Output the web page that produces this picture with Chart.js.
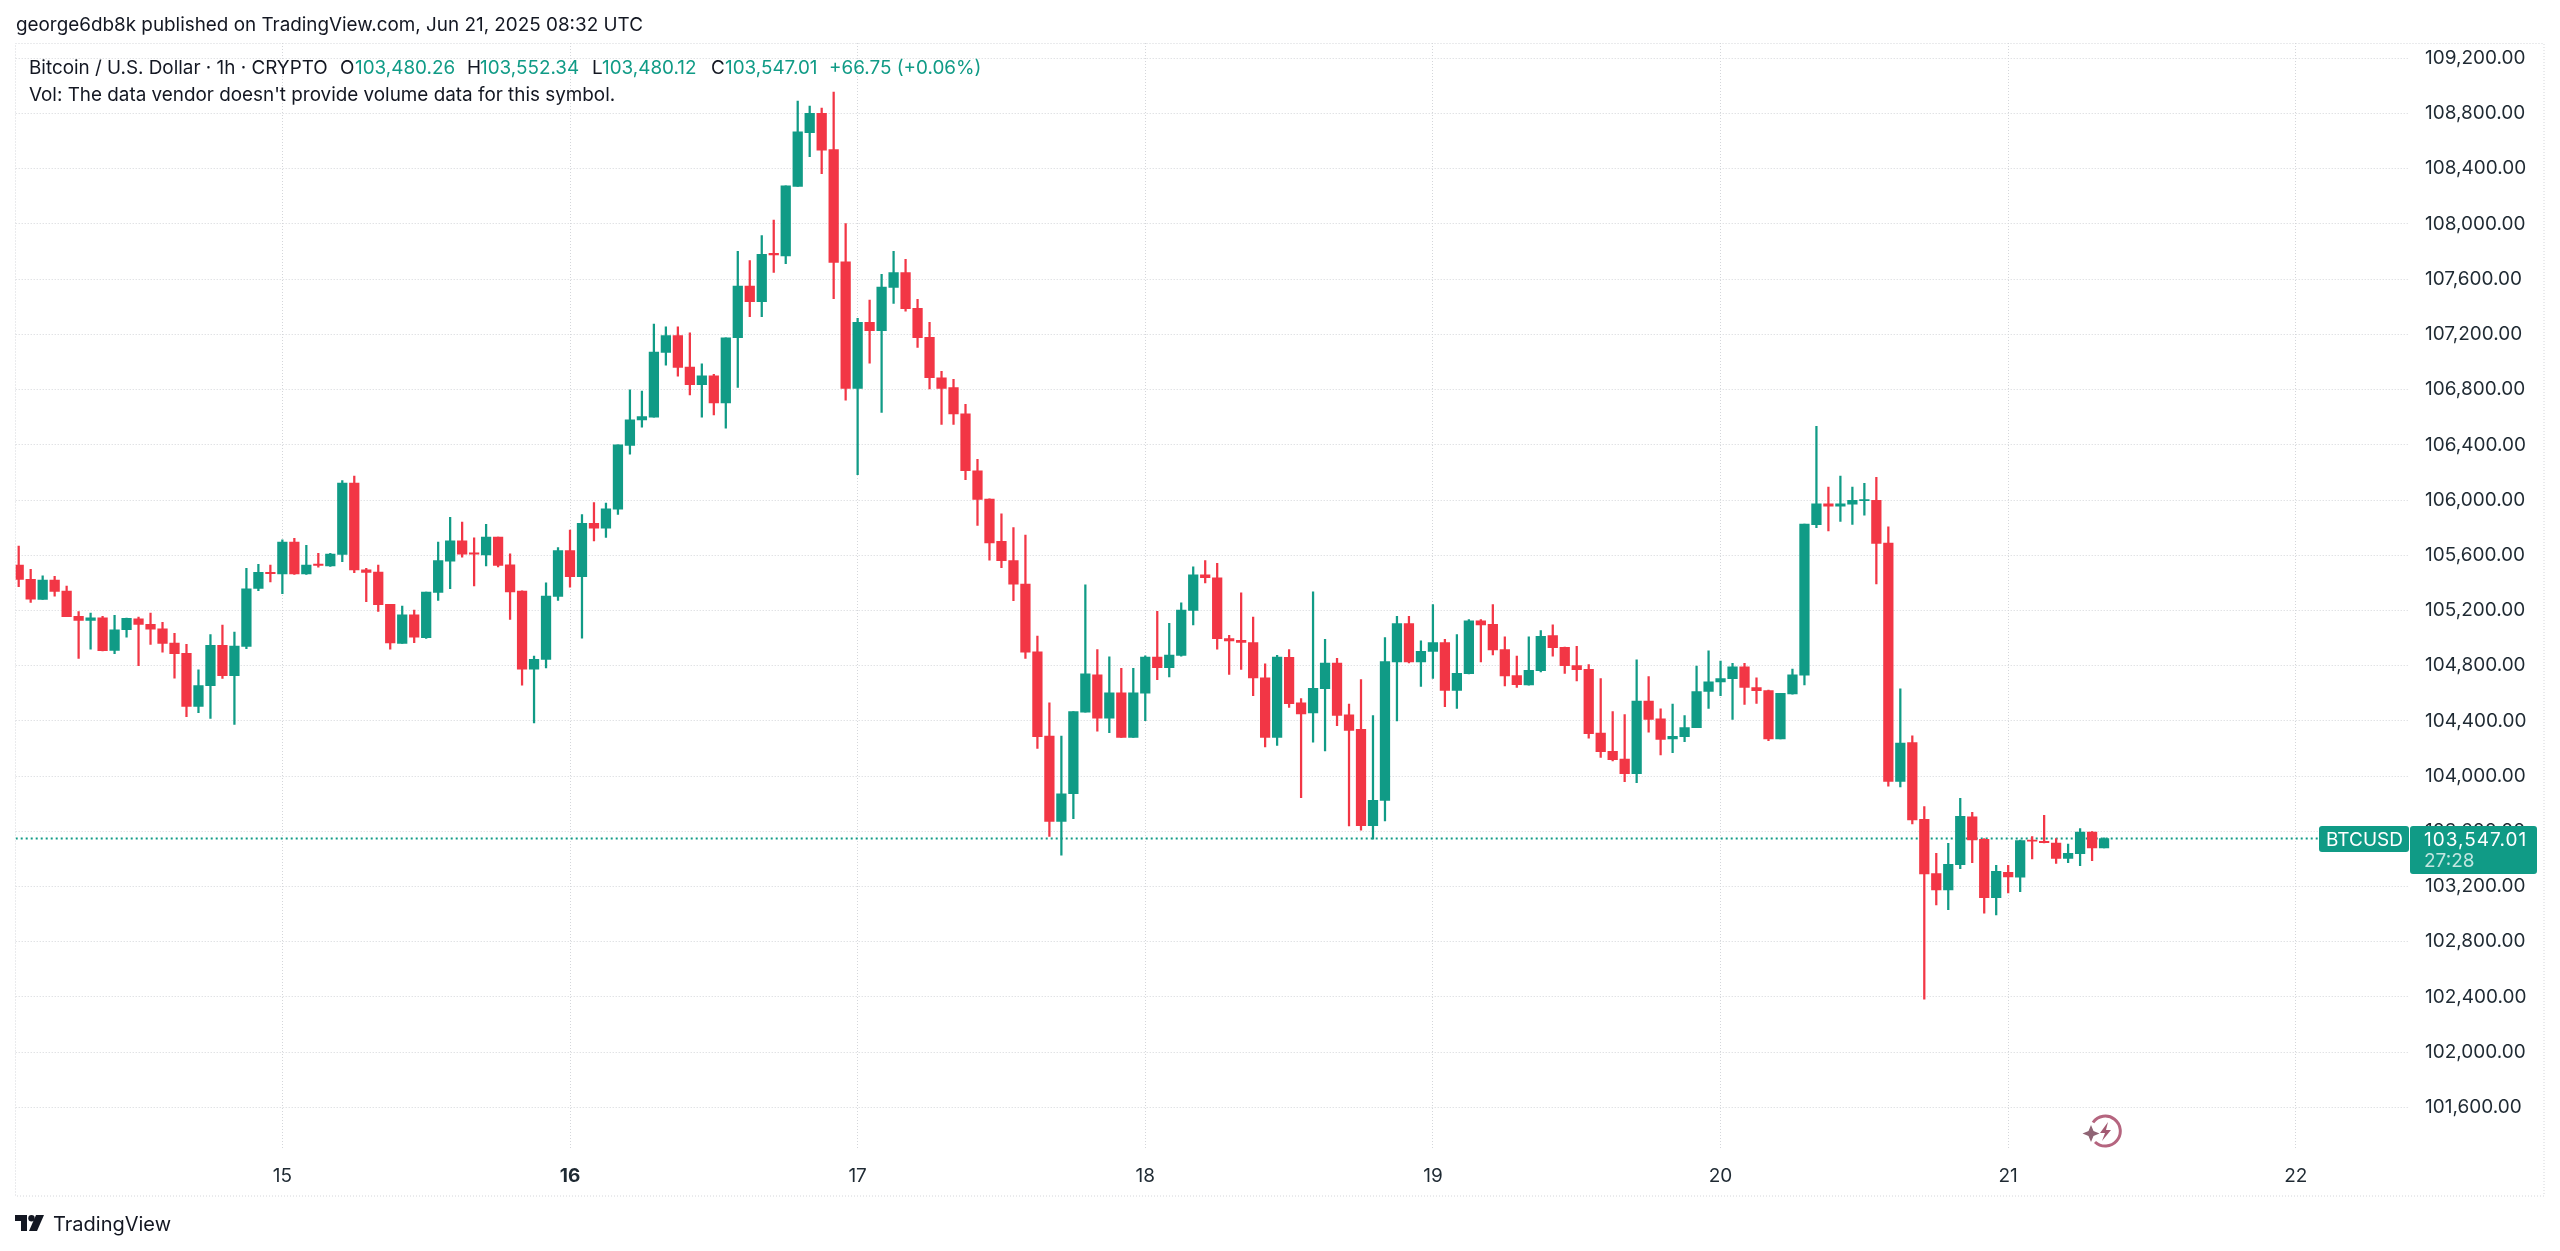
<!DOCTYPE html>
<html>
<head>
<meta charset="utf-8">
<style>
  html, body { margin: 0; padding: 0; background: #fff; }
  #wrap { position: relative; width: 2560px; height: 1251px; overflow: hidden; font-family: Inter, sans-serif; }
  canvas { position: absolute; left: 0; top: 0; }
  .t { position: absolute; white-space: nowrap; font-size: 18.86px; line-height: 24px; color: #131722; }
  .g { color: #109b86; }
</style>
</head>
<body>
<div id="wrap">
  <canvas id="chart" width="2560" height="1251"></canvas>
  <div class="t" style="left:16px;top:13px;">george6db8k published on TradingView.com, Jun 21, 2025 08:32 UTC</div>
  <div class="t" style="left:29px;top:56px">Bitcoin / U.S. Dollar · 1h · CRYPTO</div>
  <div class="t" style="left:340px;top:56px">O</div><div class="t g" style="left:355px;top:56px">103,480.26</div>
  <div class="t" style="left:467px;top:56px">H</div><div class="t g" style="left:480px;top:56px">103,552.34</div>
  <div class="t" style="left:592px;top:56px">L</div><div class="t g" style="left:602px;top:56px">103,480.12</div>
  <div class="t" style="left:711px;top:56px">C</div><div class="t g" style="left:725px;top:56px">103,547.01</div>
  <div class="t g" style="left:829px;top:56px">+66.75 (+0.06%)</div>
  <div class="t" style="left:29px;top:83px">Vol: The data vendor doesn't provide volume data for this symbol.</div>
  <svg style="position:absolute;left:15px;top:1214px" width="30" height="18" viewBox="0 0 30 18">
    <path d="M0 1h12v16H6V7H0z M21 1h8l-7 16h-8z" fill="#131722"/><circle cx="16.5" cy="4.2" r="3.2" fill="#131722"/>
  </svg>
  <div class="t" style="left:53px;top:1212px;font-size:20px">TradingView</div>
  <svg style="position:absolute;left:2082px;top:1114px" width="40" height="36" viewBox="0 0 40 36" fill="none">
    <path d="M11 8.5A15 15 0 1 1 13 28" stroke="#b5657f" stroke-width="3"/>
    <path d="M26 8l-8 11h5l-3 8 9-11h-5z" fill="#a35a72"/>
    <path d="M9 11l2.5 6 6 2.5-6 2.5-2.5 6-2.5-6-6-2.5 6-2.5z" fill="#8f6474"/>
  </svg>
</div>

<script src="https://cdn.jsdelivr.net/npm/chart.js@4/dist/chart.umd.js"></script>
<script>
// hours since Jun 14 00:00 of the first candle, and the day labels on the time axis
const firstHour = 2;
const dayLabels = ['15', '16', '17', '18', '19', '20', '21', '22'];
const boldDay = '16';
const priceTicks = [109200, 108800, 108400, 108000, 107600, 107200, 106800, 106400, 106000, 105600,
  105200, 104800, 104400, 104000, 103600, 103200, 102800, 102400, 102000, 101600];

const opens = [
  105529,105425,105280,105420,105340,105157,105128,105147,104910,105060,
  105140,105099,105067,104964,104889,104505,104655,104947,104727,104940,
  105360,105476,105464,105695,105464,105536,105522,105606,106123,105495,
  105478,105244,104961,105169,105002,105330,105557,105704,105618,105603,
  105731,105531,105340,104775,104845,105301,105634,105444,105832,105796,
  105934,106395,106581,106600,107069,107192,106963,106835,106900,106704,
  107176,107550,107437,107787,107768,108272,108661,108801,108538,107726,
  106809,107287,107227,107541,107647,107388,107178,106886,106814,106625,
  106212,106007,105700,105562,105391,104901,104290,103671,103872,104463,
  104734,104420,104603,104280,104601,104862,104785,104874,105200,105458,
  105437,104997,104983,104968,104712,104280,104860,104530,104457,104633,
  104819,104443,104339,103641,103824,104827,105104,104827,104904,104967,
  104621,104742,105124,105099,104916,104728,104660,104764,105017,104933,
  104800,104773,104312,104179,104124,104018,104544,104414,104269,104286,
  104350,104613,104683,104705,104792,104642,104620,104270,104596,104731,
  105821,105973,105956,105970,105995,105997,105688,103961,104242,103687,
  103293,103175,103358,103704,103542,103119,103303,103267,103537,103528,
  103515,103404,103438,103595,103480.26
];
const highs = [
  105666,105497,105451,105447,105377,105191,105181,105157,105164,105145,
  105152,105181,105113,105034,104954,104770,105026,105094,105043,105505,
  105534,105529,105712,105722,105671,105613,105613,106140,106174,105505,
  105529,105244,105232,105203,105333,105695,105874,105840,105726,105823,
  105731,105610,105342,104869,105400,105656,105782,105895,105982,105977,
  106400,106798,106789,107274,107255,107255,107211,106987,106910,107175,
  107801,107734,107915,108028,108277,108890,108854,108840,108956,108002,
  107316,107449,107635,107801,107743,107454,107287,106932,106874,106693,
  106294,106009,105900,105801,105746,105014,104531,104290,104468,105386,
  104917,104864,104780,104780,104872,105193,105106,105256,105516,105562,
  105541,105019,105328,105152,104814,104874,104916,104561,105334,104991,
  104853,104522,104699,104438,105003,105157,105157,104979,105242,104991,
  105025,105133,105133,105242,105008,104870,105008,105054,105095,104935,
  104940,104807,104706,104467,104445,104843,104720,104488,104522,104438,
  104797,104908,104833,104816,104816,104712,104623,104599,104775,105825,
  106533,106094,106173,106094,106120,106164,105806,104632,104291,103779,
  103441,103513,103839,103738,103547,103354,103354,103537,103561,103716,
  103547,103508,103619,103598,103552.34
];
const lows = [
  105372,105258,105280,105304,105154,104853,104920,104906,104886,105007,
  104799,104954,104898,104710,104430,104459,104418,104708,104374,104923,
  105343,105406,105321,105461,105461,105514,105519,105553,105473,105263,
  105193,104920,104961,104966,104997,105272,105357,105586,105378,105523,
  105516,105135,104659,104386,104784,105272,105369,104999,105704,105729,
  105895,106332,106528,106600,106977,106897,106762,106600,106617,106521,
  106816,107328,107328,107649,107712,108272,108487,108364,107458,106724,
  106183,106992,106635,107425,107369,107106,106804,106548,106548,106147,
  105816,105565,105509,105270,104852,104200,103563,103427,103691,104463,
  104326,104314,104280,104280,104401,104698,104719,104869,105096,105400,
  104920,104736,104773,104582,104212,104222,104498,103844,104245,104182,
  104365,103638,103609,103542,103675,104399,104819,104650,104708,104503,
  104491,104740,104827,104877,104653,104643,104658,104754,104868,104744,
  104689,104274,104136,104109,103960,103952,104319,104153,104170,104249,
  104350,104490,104582,104410,104519,104526,104256,104270,104594,104661,
  105799,105777,105845,105823,105891,105393,103927,103922,103653,102383,
  103066,103032,103330,103373,103006,102994,103153,103163,103400,103515,
  103368,103373,103351,103387,103480.12
];
const closes = [
  105425,105282,105420,105338,105154,105128,105147,104908,105060,105142,
  105099,105065,104961,104886,104505,104655,104947,104727,104942,105357,
  105476,105466,105695,105464,105529,105526,105608,106123,105493,105476,
  105241,104964,105169,105007,105333,105562,105704,105608,105608,105731,
  105526,105335,104775,104845,105304,105634,105444,105832,105796,105936,
  106400,106581,106605,107071,107192,106960,106835,106900,106704,107175,
  107550,107437,107780,107775,108277,108668,108801,108535,107722,106809,
  107287,107227,107543,107647,107386,107176,106886,106809,106623,106212,
  106004,105690,105560,105391,104898,104285,103671,103872,104468,104741,
  104420,104603,104280,104603,104862,104785,104876,105202,105458,105437,
  104995,104980,104968,104712,104280,104862,104525,104450,104636,104819,
  104440,104331,103641,103824,104829,105104,104827,104904,104967,104621,
  104744,105124,105095,104914,104725,104662,104766,105013,104930,104800,
  104771,104307,104177,104119,104018,104544,104411,104266,104288,104351,
  104613,104683,104707,104792,104642,104618,104270,104599,104734,105825,
  105973,105956,105973,105997,106004,105685,103961,104239,103682,103291,
  103175,103361,103709,103537,103119,103310,103269,103532,103528,103518,
  103404,103441,103595,103479,103547.01
];
const symbol = 'BTCUSD';
const countdown = '27:28';

const UP = '#109b86';
const DOWN = '#f23645';
const GRID = '#d4d6da';
const TEXT = '#1f2a33';
const FONT = 'Inter, sans-serif';

const hours = opens.map((_, i) => firstHour + i);
const lastClose = closes[closes.length - 1];
const xMin = 1.75, xMax = 201.36;
const candleColor = opens.map((o, i) => (closes[i] >= o ? UP : DOWN));
const money = v => v.toLocaleString('en-US', { minimumFractionDigits: 2, maximumFractionDigits: 2 });

// dotted frame around the pane and the two price badges on top of the axis
const overlay = {
  id: 'overlay',
  beforeDatasetsDraw(chart) {
    const ctx = chart.ctx;
    ctx.save();
    ctx.strokeStyle = GRID;
    ctx.setLineDash([1, 2]);
    ctx.lineWidth = 1;
    ctx.strokeRect(15.5, 43.5, 2528.5, 1152.5);
    ctx.restore();
  },
  afterDraw(chart) {
    const ctx = chart.ctx;
    const y = Math.round(chart.scales.y.getPixelForValue(lastClose));
    ctx.save();
    ctx.fillStyle = UP;
    ctx.beginPath();
    ctx.roundRect(2319, y - 13, 90, 26, 3);
    ctx.roundRect(2410, y - 13, 127, 48, 3);
    ctx.fill();
    ctx.font = '19px ' + FONT;
    ctx.textBaseline = 'middle';
    ctx.fillStyle = '#fff';
    ctx.fillText(symbol, 2326, y + 1);
    ctx.letterSpacing = '1px';
    ctx.fillText(money(lastClose), 2424, y + 1);
    ctx.letterSpacing = '0px';
    ctx.fillStyle = 'rgba(255,255,255,0.75)';
    ctx.fillText(countdown, 2424, y + 22);
    ctx.restore();
  }
};

new Chart(document.getElementById('chart').getContext('2d'), {
  type: 'bar',
  data: {
    datasets: [
      {
        type: 'line',
        data: [{ x: xMin, y: lastClose }, { x: xMax, y: lastClose }],
        borderColor: UP,
        borderWidth: 2,
        borderDash: [2, 3],
        pointRadius: 0,
        order: 3
      },
      {
        data: hours.map((h, i) => ({ x: h, y: [lows[i], highs[i]] })),
        backgroundColor: candleColor,
        barThickness: 1.6,
        grouped: false,
        order: 2
      },
      {
        data: hours.map((h, i) => ({ x: h, y: [opens[i], closes[i]] })),
        backgroundColor: candleColor,
        barThickness: 9.6,
        grouped: false,
        order: 1
      }
    ]
  },
  options: {
    responsive: false,
    animation: false,
    devicePixelRatio: 1,
    layout: { padding: { left: 15.7, top: 43, right: 16, bottom: 55 } },
    plugins: { legend: { display: false }, tooltip: { enabled: false } },
    scales: {
      x: {
        type: 'linear',
        offset: false,
        min: xMin,
        max: xMax,
        afterBuildTicks(scale) {
          scale.ticks = dayLabels.map(d => ({ value: (Number(d) - 14) * 24 }));
        },
        afterFit(scale) { scale.height = 46; },
        border: { display: false, dash: [1, 2] },
        grid: { offset: false, color: GRID, tickLength: 0, lineWidth: 1 },
        ticks: {
          autoSkip: false,
          maxRotation: 0,
          padding: 15,
          color: TEXT,
          font: ctx => ({
            family: FONT,
            size: 19,
            weight: ctx.tick && String(14 + ctx.tick.value / 24) === boldDay ? 'bold' : 'normal'
          }),
          callback: value => String(14 + value / 24)
        }
      },
      y: {
        position: 'right',
        min: 101291,
        max: 109311,
        afterBuildTicks(scale) {
          scale.ticks = priceTicks.map(v => ({ value: v }));
        },
        afterFit(scale) { scale.width = 136; },
        border: { display: false, dash: [1, 2] },
        grid: { color: GRID, tickLength: 0, lineWidth: 1 },
        ticks: {
          autoSkip: false,
          padding: 17,
          color: TEXT,
          font: { family: FONT, size: 19 },
          callback: value => money(value)
        }
      }
    }
  },
  plugins: [overlay]
});
</script>
</body>
</html>
